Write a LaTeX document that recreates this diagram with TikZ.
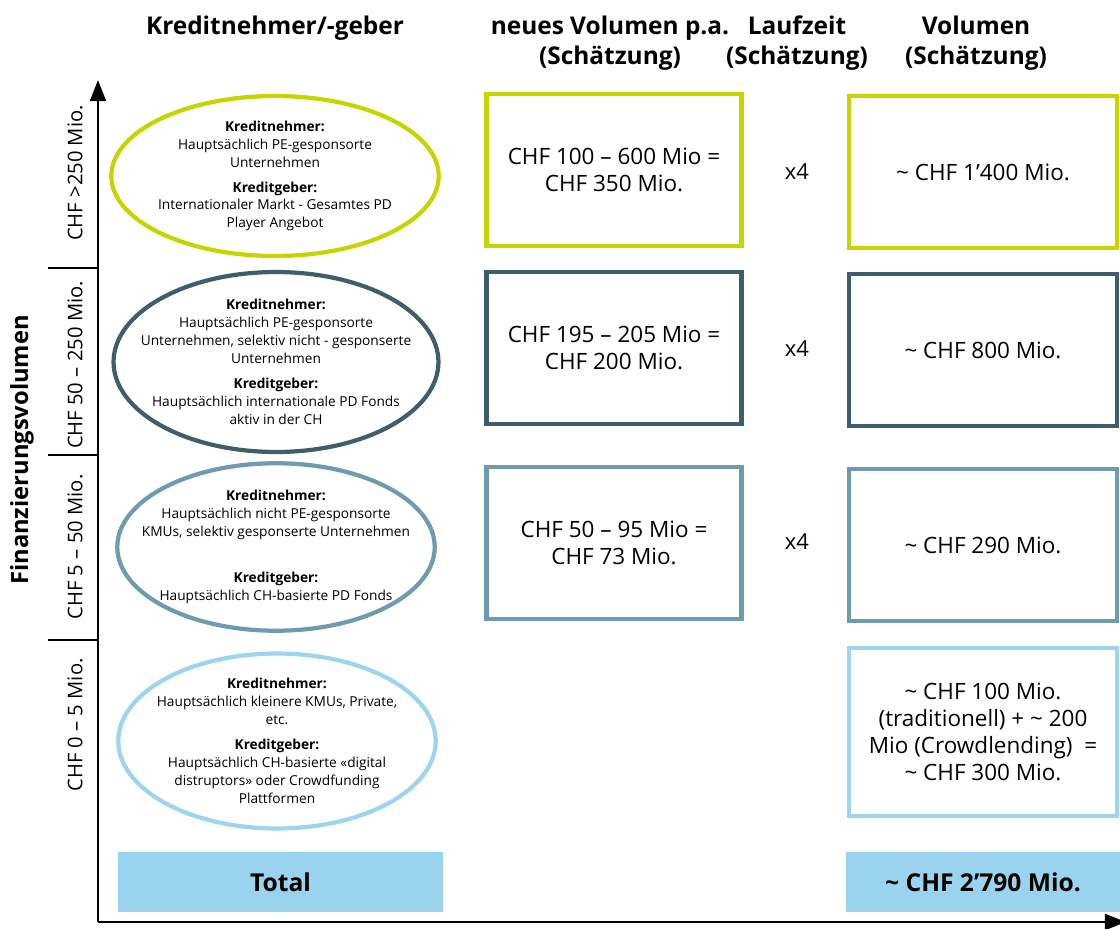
\documentclass[tikz,border=0pt]{standalone}
\usepackage{fontspec}
\setmainfont{Open Sans}
\usetikzlibrary{arrows.meta,positioning,shapes.geometric}

\definecolor{limegreen}{RGB}{200,212,0}
\definecolor{slatedark}{RGB}{64,93,108}
\definecolor{slatemid}{RGB}{111,154,176}
\definecolor{skylight}{RGB}{157,212,239}
\definecolor{totalfill}{RGB}{154,211,238}

\tikzset{
  band/.style={ellipse,line width=2.4pt,inner sep=0pt},
  bandtext/.style={align=center,font=\fontsize{7.8}{10.2}\selectfont},
  volbox/.style={rectangle,line width=2.4pt,minimum width=5.1cm,minimum height=3.05cm,
    align=center,font=\fontsize{12.8}{15.5}\selectfont},
  sumbox/.style={rectangle,line width=2.4pt,minimum width=5.35cm,minimum height=3.05cm,
    align=center,font=\fontsize{12.8}{15.5}\selectfont},
  totalbar/.style={rectangle,fill=totalfill,minimum height=1.2cm,inner sep=0pt,
    font=\fontsize{14}{16}\selectfont\bfseries},
  header/.style={align=center,font=\fontsize{13.9}{17}\selectfont\bfseries},
  bandlabel/.style={rotate=90,font=\fontsize{11.5}{14}\selectfont},
  factor/.style={font=\fontsize{12.5}{14}\selectfont}
}

\begin{document}
\begin{tikzpicture}[x=0.02cm,y=-0.02cm,>=Triangle]

    \useasboundingbox (0,0) rectangle (1120,929);

    % Column headers
    \node [header] (hborrow) at (275,28) {Kreditnehmer/-geber};
    \node [header] (hnew) at (610,43) {neues Volumen p.a.\\(Schätzung)};
    \node [header] (hterm) at (797,43) {Laufzeit\\(Schätzung)};
    \node [header] (hvol) at (976,43) {Volumen\\(Schätzung)};

    % Axes
    \coordinate (origin) at (98,922);
    \coordinate (ytop) at (98,80);
    \coordinate (xend) at (1126,922);
    \draw [->,line width=1.6pt,-{Triangle[length=12pt,width=9pt]}] (origin) -- (ytop);
    \draw [->,line width=1.6pt,-{Triangle[length=12pt,width=9pt]}] (origin) -- (xend);

    % Band separators
    \foreach \yy/\nm in {268/sepa,455/sepb,640/sepc} {
        \coordinate (\nm) at (48,\yy);
        \draw [line width=1.3pt] (\nm) -- (98,\yy);
    }

    % Band labels
    \node [bandlabel] (lbla) at (75,173) {CHF >250 Mio.};
    \node [bandlabel] (lblb) at (75,365) {CHF 50 – 250 Mio.};
    \node [bandlabel] (lblc) at (75,547) {CHF 5 – 50 Mio.};
    \node [bandlabel] (lbld) at (75,725) {CHF 0 – 5 Mio.};
    \node [rotate=90,font=\fontsize{13.5}{16}\selectfont\bfseries] (yaxis) at (22,450) {Finanzierungsvolumen};

    % Borrowers / lenders
    \node [band,draw=limegreen,minimum width=6.55cm,minimum height=3.2cm] (ella) at (275,176) {};
    \node [bandtext] (txta) at (ella.center)
        {\textbf{Kreditnehmer:}\\Hauptsächlich PE-gesponsorte\\Unternehmen\\[4pt]
         \textbf{Kreditgeber:}\\Internationaler Markt - Gesamtes PD\\Player Angebot};
    \node [band,draw=slatedark,minimum width=6.5cm,minimum height=3.6cm] (ellb) at (276,362) {};
    \node [bandtext] (txtb) at (ellb.center)
        {\textbf{Kreditnehmer:}\\Hauptsächlich PE-gesponsorte\\Unternehmen, selektiv nicht - gesponserte\\Unternehmen\\[4pt]
         \textbf{Kreditgeber:}\\Hauptsächlich internationale PD Fonds\\aktiv in der CH};
    \node [band,draw=slatemid,minimum width=6.35cm,minimum height=3.35cm] (ellc) at (276,547) {};
    \node [bandtext] (txtc) at (ellc.center)
        {\textbf{Kreditnehmer:}\\Hauptsächlich nicht PE-gesponsorte\\KMUs, selektiv gesponserte Unternehmen\\[16pt]
         \textbf{Kreditgeber:}\\Hauptsächlich CH-basierte PD Fonds};
    \node [band,draw=skylight,minimum width=6.35cm,minimum height=3.5cm] (elld) at (277,741) {};
    \node [bandtext] (txtd) at (elld.center)
        {\textbf{Kreditnehmer:}\\Hauptsächlich kleinere KMUs, Private,\\etc.\\[4pt]
         \textbf{Kreditgeber:}\\Hauptsächlich CH-basierte «digital\\distruptors» oder Crowdfunding\\Plattformen};

    % New volume p.a.
    \node [volbox,draw=limegreen] (newa) at (614,170) {CHF 100 – 600 Mio =\\CHF 350 Mio.};
    \node [volbox,draw=slatedark] (newb) at (614,348) {CHF 195 – 205 Mio =\\CHF 200 Mio.};
    \node [volbox,draw=slatemid] (newc) at (614,543) {CHF 50 – 95 Mio =\\CHF 73 Mio.};

    % Term
    \node [factor] (terma) at (797,172) {x4};
    \node [factor] (termb) at (797,349) {x4};
    \node [factor] (termc) at (797,542) {x4};

    % Volume
    \node [sumbox,draw=limegreen] (vola) at (983,172) {\textasciitilde{} CHF 1’400 Mio.};
    \node [sumbox,draw=slatedark] (volb) at (983,350) {\textasciitilde{} CHF 800 Mio.};
    \node [sumbox,draw=slatemid] (volc) at (983,545) {\textasciitilde{} CHF 290 Mio.};
    \node [sumbox,draw=skylight,minimum height=3.35cm] (vold) at (983,732)
        {\textasciitilde{} CHF 100 Mio.\\(traditionell) + \textasciitilde{} 200\\Mio (Crowdlending)~~=\\\textasciitilde{} CHF 300 Mio.};

    % Totals
    \node [totalbar,minimum width=6.5cm] (totl) at (280.5,882) {Total};
    \node [totalbar,minimum width=5.5cm] (totr) at (983,882) {\textasciitilde{} CHF 2’790 Mio.};

\end{tikzpicture}
\end{document}
